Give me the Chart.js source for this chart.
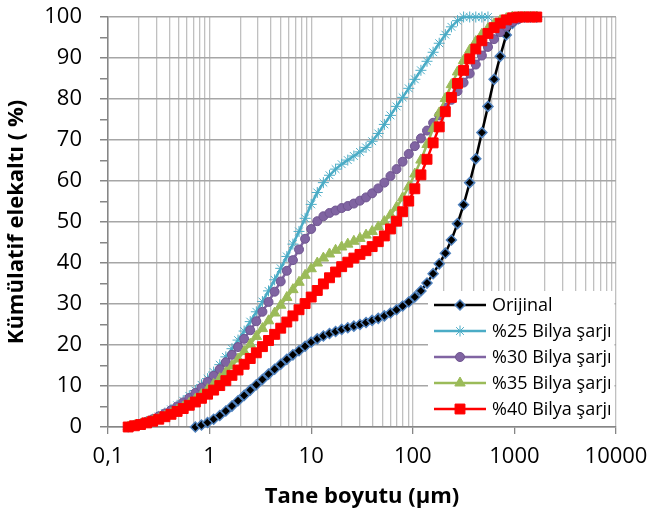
<!DOCTYPE html>
<html>
<head>
<meta charset="utf-8">
<script src="https://cdn.jsdelivr.net/npm/chart.js@4.4.0/dist/chart.umd.min.js"></script>
<style>
  html, body { margin: 0; padding: 0; background: #fff; }
</style>
</head>
<body>
<canvas id="chart-1" width="668" height="518"></canvas>
<script>
// Tane boyutu sınıfları (µm)
const sizes = [
    0.158, 0.182, 0.209, 0.240, 0.275, 0.316, 0.363, 0.417, 0.479, 0.550, 0.631,
    0.724, 0.832, 0.955, 1.096, 1.259, 1.445, 1.660, 1.905, 2.188, 2.512, 2.884, 3.311, 3.802, 4.365, 5.012, 5.754, 6.607, 7.586, 8.710,
    10.00, 11.48, 13.18, 15.14, 17.38, 19.95, 22.91, 26.30, 30.20, 34.67, 39.81, 45.71, 52.48, 60.26, 69.18, 79.43, 91.20,
    104.7, 120.2, 138.0, 158.5, 182.0, 208.9, 239.9, 275.4, 316.2, 363.1, 416.9, 478.6, 549.5, 631.0, 724.4, 831.8, 955.0,
    1096, 1259, 1445, 1660
];

// Kümülatif elekaltı (%)
const orijinal = [
    null, null, null, null, null, null, null, null, null, null, null,
    0, 0.5, 1.1, 1.9, 2.8, 3.9, 5.1, 6.4, 7.7, 9.0, 10.3, 11.6, 12.9, 14.1, 15.3, 16.5, 17.6, 18.6, 19.7,
    20.7, 21.5, 22.2, 22.8, 23.3, 23.8, 24.2, 24.6, 25.0, 25.5, 26.0, 26.5, 27.1, 27.8, 28.6, 29.5, 30.5,
    31.7, 33.2, 35.1, 37.4, 39.8, 42.4, 45.6, 49.6, 54.2, 59.6, 65.4, 71.8, 78.2, 84.8, 90.4, 95.6, 98.4,
    99.6, 100, 100, 100
];
const bilya25 = [
    0, 0.4, 0.8, 1.3, 1.9, 2.6, 3.4, 4.3, 5.3, 6.4, 7.6,
    8.9, 10.3, 11.8, 13.4, 15.2, 17.1, 19.1, 21.2, 23.4, 25.7, 28.1, 30.6, 33.2, 35.9, 38.7, 41.6, 44.6, 47.7, 50.9,
    54.3, 57.2, 59.6, 61.4, 62.9, 64.1, 65.1, 66.1, 67.1, 68.2, 69.7, 71.6, 73.8, 76.0, 78.2, 80.4, 82.6,
    84.8, 87.0, 89.2, 91.4, 93.6, 95.7, 97.6, 99.1, 100, 100, 100, 100, 100, null, null, null, null,
    null, null, null, null
];
const bilya30 = [
    0, 0.4, 0.8, 1.3, 1.9, 2.6, 3.3, 4.1, 5.0, 6.0, 7.1,
    8.3, 9.6, 11.0, 12.5, 14.1, 15.8, 17.6, 19.5, 21.5, 23.6, 25.8, 28.1, 30.5, 33.0, 35.5, 38.1, 40.7, 43.3, 45.9,
    48.3, 50.2, 51.4, 52.2, 52.8, 53.4, 53.9, 54.5, 55.2, 56.0, 57.0, 58.2, 59.6, 61.2, 62.9, 64.7, 66.6,
    68.5, 70.4, 72.3, 74.2, 76.0, 77.9, 79.8, 81.9, 84.0, 86.2, 88.4, 90.6, 92.7, 94.6, 96.3, 97.7, 98.8,
    99.5, 100, 100, 100
];
const bilya35 = [
    0, 0.3, 0.6, 1.0, 1.5, 2.0, 2.6, 3.3, 4.1, 4.9, 5.8,
    6.8, 7.9, 9.1, 10.4, 11.8, 13.3, 14.9, 16.6, 18.4, 20.2, 22.1, 24.0, 25.9, 27.8, 29.7, 31.6, 33.5, 35.3, 37.0,
    38.6, 40.0, 41.2, 42.2, 43.1, 43.9, 44.6, 45.3, 46.0, 46.8, 47.7, 48.8, 50.1, 51.7, 53.6, 55.9, 58.6,
    61.7, 65.1, 68.9, 72.8, 76.6, 80.1, 83.5, 86.6, 89.4, 91.9, 94.0, 95.8, 97.2, 98.3, 99.1, 99.6, 100,
    100, 100, 100, 100
];
const bilya40 = [
    0, 0.3, 0.6, 1.0, 1.4, 1.9, 2.5, 3.1, 3.8, 4.5, 5.3,
    6.1, 7.0, 8.0, 9.0, 10.1, 11.3, 12.6, 13.9, 15.3, 16.7, 18.1, 19.6, 21.1, 22.6, 24.1, 25.6, 27.1, 28.6, 30.1,
    31.7, 33.3, 34.9, 36.4, 37.8, 39.1, 40.2, 41.2, 42.1, 43.0, 44.0, 45.2, 46.6, 48.3, 50.2, 52.5, 55.1,
    58.1, 61.5, 65.3, 69.3, 73.2, 76.9, 80.4, 83.8, 87.0, 89.8, 92.2, 94.2, 96.0, 97.4, 98.5, 99.3, 99.8,
    100, 100, 100, 100
];

const seriesNames = ['Orijinal', '%25 Bilya şarjı', '%30 Bilya şarjı', '%35 Bilya şarjı', '%40 Bilya şarjı'];
const seriesValues = [orijinal, bilya25, bilya30, bilya35, bilya40];

// Eksenler
const xDecades = [0.1, 1, 10, 100, 1000, 10000];
const xTickLabels = ['0,1', '1', '10', '100', '1000', '10000'];
const yTickValues = [0, 10, 20, 30, 40, 50, 60, 70, 80, 90, 100];

const FONT = "'Open Sans', 'Liberation Sans', sans-serif";

// Excel benzeri stiller
const styles = [
    {line: '#000000', style: 'rectRot', radius: 5, fill: '#000000', edge: '#4f81bd', edgeWidth: 1.5},
    {line: '#4bacc6', style: 'star', radius: 5.5, fill: '#4bacc6', edge: '#4bacc6', edgeWidth: 1},
    {line: '#8064a2', style: 'circle', radius: 4.5, fill: '#8064a2', edge: '#6f5590', edgeWidth: 1},
    {line: '#9bbb59', style: 'triangle', radius: 6, fill: '#9bbb59', edge: '#9bbb59', edgeWidth: 1},
    {line: '#ff0000', style: 'rect', radius: 7, fill: '#ff0000', edge: '#ff0000', edgeWidth: 1}
];

function toPoints(values) {
    const pts = [];
    values.forEach(function(v, i) {
        if (v !== null) pts.push({x: sizes[i], y: v});
    });
    return pts;
}

// grille log: 1..9 x chaque décade
const xGridValues = [];
xDecades.forEach(function(d, i) {
    if (i === xDecades.length - 1) { xGridValues.push(d); return; }
    for (let m = 1; m <= 9; m++) xGridValues.push(m === 1 ? d : d * m);
});

const datasets = seriesNames.map(function(name, i) {
    const s = styles[i];
    return {
        label: name,
        data: toPoints(seriesValues[i]),
        borderColor: s.line,
        borderWidth: 2.5,
        backgroundColor: s.fill,
        pointStyle: s.style,
        pointRadius: s.radius,
        pointBackgroundColor: s.fill,
        pointBorderColor: s.edge,
        pointBorderWidth: s.edgeWidth,
        tension: 0,
        clip: false,
        order: seriesNames.length - i
    };
});

// Légende dans la zone du graphe
const legendBox = {
    id: 'legendBox',
    afterDraw(chart) {
        const ctx = chart.ctx;
        const area = chart.chartArea;
        const left = area.right - 188;
        const top = area.bottom - 136;
        ctx.save();
        ctx.fillStyle = '#ffffff';
        ctx.fillRect(left, top, area.right - left - 1.5, area.bottom - top - 1);
        ctx.font = '18px ' + FONT;
        ctx.textBaseline = 'middle';
        seriesNames.forEach(function(name, i) {
            const s = styles[i];
            const y = top + 14 + i * 26;
            ctx.strokeStyle = s.line;
            ctx.lineWidth = 2.5;
            ctx.beginPath();
            ctx.moveTo(left + 6, y);
            ctx.lineTo(left + 58, y);
            ctx.stroke();
            ctx.fillStyle = s.fill;
            ctx.strokeStyle = s.edge;
            ctx.lineWidth = s.edgeWidth;
            Chart.helpers.drawPoint(ctx, {pointStyle: s.style, radius: s.radius, rotation: 0, borderWidth: s.edgeWidth}, left + 32, y);
            ctx.fillStyle = '#000';
            ctx.fillText(name, left + 64, y + 1);
        });
        ctx.restore();
    }
};

new Chart(document.getElementById('chart-1'), {
    type: 'line',
    data: {datasets: datasets},
    options: {
        responsive: false,
        animation: false,
        devicePixelRatio: 1,
        layout: {padding: {top: 17, right: 52, bottom: 0, left: 0}},
        plugins: {legend: {display: false}, tooltip: {enabled: false}},
        scales: {
            x: {
                type: 'logarithmic',
                min: 0.1,
                max: 10000,
                afterBuildTicks: function(scale) {
                    scale.ticks = xGridValues.map(function(v) { return {value: v}; });
                },
                afterFit: function(scale) {
                    scale.height = 91;
                    scale.paddingLeft = 0;
                    scale.paddingRight = 0;
                },
                ticks: {
                    autoSkip: false,
                    maxRotation: 0,
                    padding: 10,
                    color: '#000',
                    font: {family: FONT, size: 22},
                    callback: function(value) {
                        const i = xDecades.indexOf(value);
                        return i >= 0 ? xTickLabels[i] : '';
                    }
                },
                grid: {
                    color: '#c0c0c0',
                    lineWidth: 1.3,
                    tickLength: 7,
                    tickColor: function(c) {
                        return c.tick && xDecades.indexOf(c.tick.value) >= 0 ? '#868686' : 'rgba(0,0,0,0)';
                    }
                },
                border: {color: '#868686', width: 1.5},
                title: {
                    display: true,
                    text: 'Tane boyutu (µm)',
                    color: '#000',
                    font: {family: FONT, size: 22, weight: 'bold'},
                    padding: {top: 0, bottom: 8}
                }
            },
            y: {
                min: 0,
                max: 100,
                afterFit: function(scale) {
                    scale.width = 108;
                    scale.paddingTop = 0;
                    scale.paddingBottom = 0;
                },
                ticks: {
                    stepSize: 5,
                    maxTicksLimit: 30,
                    autoSkip: false,
                    padding: 18,
                    color: '#000',
                    font: {family: FONT, size: 22},
                    callback: function(value) {
                        return yTickValues.indexOf(value) >= 0 ? String(value) : '';
                    }
                },
                grid: {
                    color: function(c) {
                        return c.tick && yTickValues.indexOf(c.tick.value) >= 0 ? '#a6a6a6' : 'rgba(0,0,0,0)';
                    },
                    lineWidth: 1.5,
                    tickLength: 8,
                    tickColor: '#868686'
                },
                border: {color: '#868686', width: 1.5},
                title: {
                    display: true,
                    text: 'Kümülatif elekaltı ( %)',
                    color: '#000',
                    font: {family: FONT, size: 22, weight: 'bold'},
                    padding: {top: 4, bottom: 0}
                }
            }
        }
    },
    plugins: [legendBox]
});
</script>
</body>
</html>
